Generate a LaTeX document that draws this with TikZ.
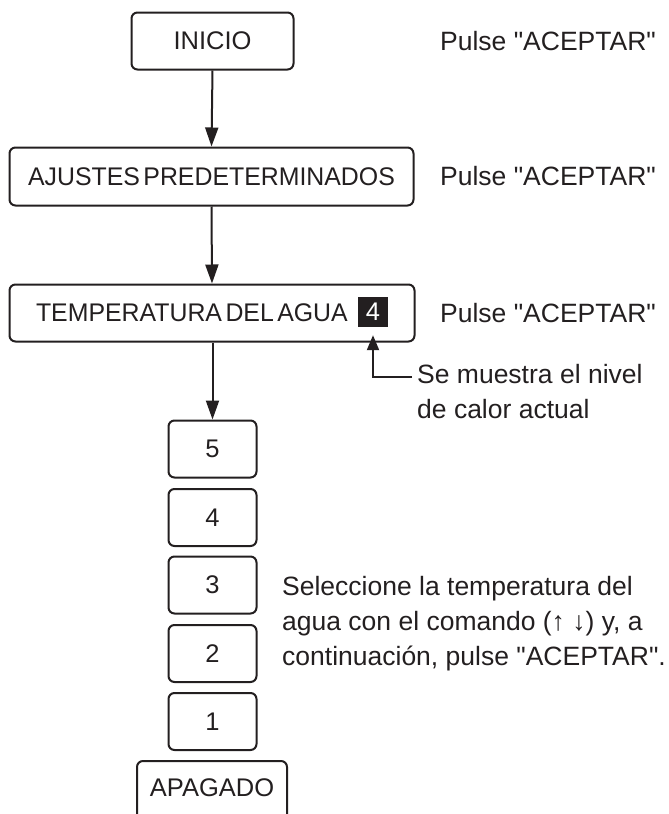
\documentclass[tikz,border=0pt]{standalone}
\usepackage{fontspec}
\setmainfont{Liberation Sans}
\newfontfamily\plainsans{Liberation Sans}
\newfontfamily\tightfamily[FakeStretch=0.975, WordSpace=0.5]{Liberation Sans}
\usetikzlibrary{arrows.meta}
\definecolor{ink}{RGB}{35,31,32}
\newcommand{\boxfont}{\fontsize{25.5}{30}\selectfont}
\newcommand{\sidefont}{\plainsans\fontsize{26.5}{35}\selectfont}
\begin{document}
\begin{tikzpicture}[x=1pt,y=-1pt,
  stepbox/.style={draw=ink, line width=2pt, rounded corners=6pt, inner sep=0pt, text=ink, font=\boxfont},
  numbox/.style={stepbox, minimum width=88pt, minimum height=57pt},
  sidetext/.style={anchor=west, inner sep=0pt, text=ink, font=\sidefont, align=left},
  flow/.style={draw=ink, line width=2pt, -{Triangle[length=19pt,width=13pt]}},
  callout/.style={draw=ink, line width=2pt, -{Triangle[length=15pt,width=12pt]}}]
\useasboundingbox (0,0) rectangle (669,814);
\clip (0,0) rectangle (669,814);
% main boxes
\node[stepbox, minimum width=162pt, minimum height=57pt] (inicio) at (212.5,41) {INICIO};
\node[stepbox, minimum width=404pt, minimum height=58pt] (ajustes) at (211.5,176.5) {{\tightfamily AJUSTES PREDETERMINADOS}};
\node[stepbox, minimum width=405pt, minimum height=57pt] (temp) at (212,313) {};
\node[anchor=east, inner sep=0pt, text=ink, font=\boxfont] (templabel) at (348,313) {\tightfamily TEMPERATURA DEL AGUA};
\node[fill=ink, text=white, inner sep=0pt, minimum size=30pt, font=\boxfont] (four) at (373,312) {4};
% number boxes
\node[numbox] (n5) at (212.5,449) {5};
\node[numbox] (n4) at (212.5,517.5) {4};
\node[numbox] (n3) at (212.5,585) {3};
\node[numbox] (n2) at (212.5,653.5) {2};
\node[numbox] (n1) at (212.5,721.5) {1};
\node[inner sep=0pt, text=ink, font=\boxfont] (apagado) at (212,788) {APAGADO};
\draw[ink, line width=2pt, rounded corners=6pt] (137,830) |- (apagado.center |- 0,761) -| (287,830);
% side texts
\node[sidetext] (p1) at (440,41) {Pulse "ACEPTAR"};
\node[sidetext] (p2) at (440,176.5) {Pulse "ACEPTAR"};
\node[sidetext] (p3) at (440,313) {Pulse "ACEPTAR"};
\node[sidetext] (muestra) at (417,392) {Se muestra el nivel\\de calor actual};
\node[sidetext] (selec) at (282,624) {Seleccione la temperatura del\\agua con el comando (↑ ↓) y, a\\continuación, pulse "ACEPTAR".};
% connectors
\draw[flow] (inicio.south) -- (ajustes.north);
\draw[flow] (ajustes.south) -- (temp.north);
\draw[flow] (temp.south -| n5.north) -- (n5.north);
\coordinate (calloutstart) at (412,377);
\draw[callout, shorten >=8pt] (calloutstart) -| (four.south);
\end{tikzpicture}
\end{document}
